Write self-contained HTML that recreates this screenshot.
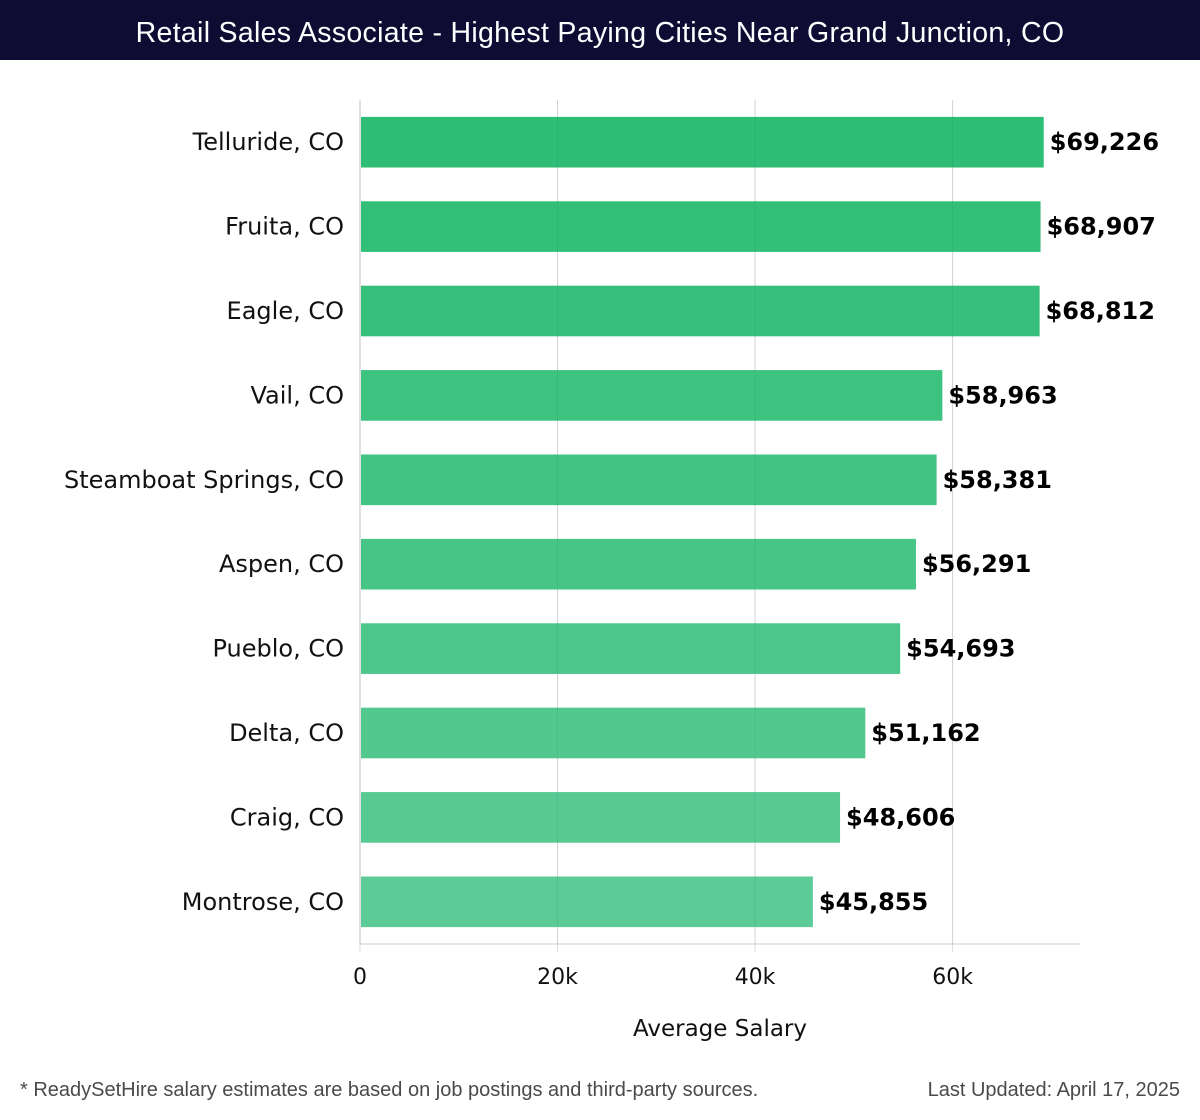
<!DOCTYPE html>
<html><head><meta charset="utf-8"><style>
html,body{margin:0;padding:0;background:#fff;width:1200px;height:1120px;overflow:hidden}
#hdr{position:absolute;left:0;top:0;width:1200px;height:60px;background:#0e0c33;color:#fff;font-family:"Liberation Sans","DejaVu Sans",sans-serif;font-size:28.5px;line-height:66px;text-align:center;letter-spacing:0.3px}
.foot{position:absolute;top:1079px;font-family:"Liberation Sans","DejaVu Sans",sans-serif;font-size:20px;color:#4a4a4a}
svg{position:absolute;left:0;top:0}
</style></head><body>
<div id="hdr">Retail Sales Associate - Highest Paying Cities Near Grand Junction, CO</div>
<svg id="chart" width="1200" height="1120"></svg>
<div class="foot" style="left:20px">* ReadySetHire salary estimates are based on job postings and third-party sources.</div>
<div class="foot" style="right:20px">Last Updated: April 17, 2025</div>
<script>
const categories=["Telluride, CO","Fruita, CO","Eagle, CO","Vail, CO","Steamboat Springs, CO","Aspen, CO","Pueblo, CO","Delta, CO","Craig, CO","Montrose, CO"];
const values=[69226,68907,68812,58963,58381,56291,54693,51162,48606,45855];
const tickValues=[0,20000,40000,60000];
const tickLabels=["0","20k","40k","60k"];
const svg=document.getElementById('chart');
const NS='http://www.w3.org/2000/svg';
const x0=360,x1=1080,xmax=72900,yTop=100,yBot=944;
const xs=v=>x0+(v/xmax)*(x1-x0);
const band=(yBot-yTop)/categories.length;
const ys=i=>yTop+band*i;
function mk(t,a){const e=document.createElementNS(NS,t);for(const k in a)e.setAttribute(k,a[k]);svg.appendChild(e);return e;}
function col(i){const n=categories.length-1,t=n?i/n:0;const a=[45,189,116],b=[92,203,151];return 'rgb('+a.map((c,j)=>Math.round(c+(b[j]-c)*t)).join(',')+')';}
tickValues.forEach((v,i)=>{
 const g=mk('line',{x1:xs(v),x2:xs(v),y1:yTop,y2:yBot+8,stroke:'#ddd','stroke-width':1});
 
 
 const t=mk('text',{x:xs(v),y:984,'text-anchor':'middle','font-family':'DejaVu Sans, sans-serif','font-size':22,fill:'#111'});
 t.textContent=tickLabels[i];
 
 
});
const ax=mk('line',{x1:x0,x2:x1,y1:yBot,y2:yBot,stroke:'#ccc','stroke-width':1});


const ay=mk('line',{x1:x0,x2:x0,y1:yTop,y2:yBot,stroke:'#ccc','stroke-width':1});


categories.forEach((c,i)=>{
 const bh=band*0.6,y=ys(i)+band*0.2,cy=ys(i)+band/2;
 const r=mk('rect',{x:x0+1,y:y,width:xs(values[i])-x0-1,height:bh,fill:col(i)});
 
 
 const l=mk('text',{x:344,y:cy+8,'text-anchor':'end','font-family':'DejaVu Sans, sans-serif','font-size':24,fill:'#111'});
 l.textContent=c;
 
 
 const v=mk('text',{x:xs(values[i])+6,y:cy+8,'font-family':'DejaVu Sans, sans-serif','font-size':24,'font-weight':'bold',fill:'#000'});
 v.textContent='$'+values[i].toLocaleString('en-US');
 
 
});
tickValues.forEach(v=>{
 const g=mk('line',{x1:xs(v),x2:xs(v),y1:yTop,y2:yBot,stroke:'rgba(0,0,0,0.05)','stroke-width':1});
 
 
});
const xt=mk('text',{x:720,y:1036,'text-anchor':'middle','font-family':'DejaVu Sans, sans-serif','font-size':23,fill:'#111'});
xt.textContent='Average Salary';


</script>
</body></html>
